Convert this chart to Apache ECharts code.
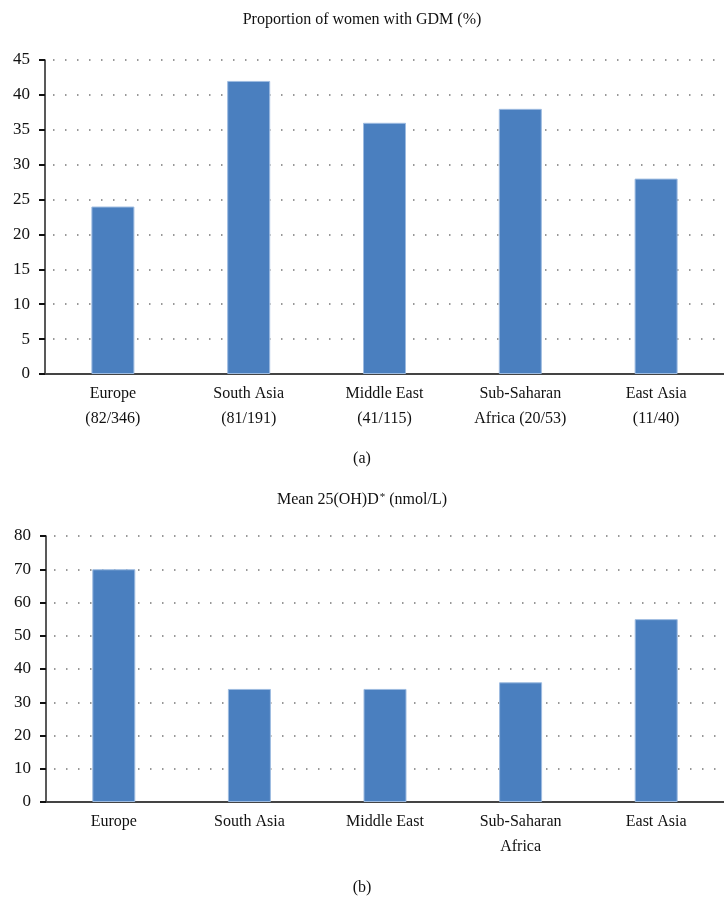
<!DOCTYPE html>
<html>
<head>
<meta charset="utf-8">
<script src="https://cdn.jsdelivr.net/npm/echarts@6/dist/echarts.min.js"></script>
<style>
html,body{margin:0;padding:0;background:#fff;}
#c{width:724px;height:898px;}
</style>
</head>
<body>
<div id="c"></div>
<script>
const categoriesA = ['Europe\n(82/346)', 'South Asia\n(81/191)', 'Middle East\n(41/115)', 'Sub-Saharan\nAfrica (20/53)', 'East Asia\n(11/40)'];
const valuesA = [24, 42, 36, 38, 28];
const categoriesB = ['Europe', 'South Asia', 'Middle East', 'Sub-Saharan\nAfrica', 'East Asia'];
const valuesB = [70, 34, 34, 36, 55];

const FONT = '"Liberation Serif", "DejaVu Serif", serif';
const BAR = '#4a7fbf';

function yAxis(idx, max, interval) {
  return {
    gridIndex: idx, type: 'value', min: 0, max: max, interval: interval,
    axisLine: { show: true, lineStyle: { color: '#222', width: 1.5 } },
    axisTick: { show: true, inside: false, length: 6, lineStyle: { color: '#111', width: 2 } },
    axisLabel: { color: '#111', fontFamily: FONT, fontSize: 17, margin: 15 },
    splitLine: { show: true, lineStyle: { color: '#777', width: 1.5, type: [1.5, 10.5], dashOffset: -8 } }
  };
}
function xAxis(idx, cats) {
  return {
    gridIndex: idx, type: 'category', data: cats,
    axisLine: { show: true, lineStyle: { color: '#444', width: 2 } },
    axisTick: { show: false },
    axisLabel: { color: '#111', fontFamily: FONT, fontSize: 16, lineHeight: 25, margin: 7, interval: 0 }
  };
}
const chart = echarts.init(document.getElementById('c'));
chart.setOption({
  animation: false,
  backgroundColor: '#fff',
  title: [
    { text: 'Proportion of women with GDM (%)', left: 'center', top: 7, textStyle: { fontFamily: FONT, fontSize: 16, fontWeight: 'normal', color: '#111' } },
    { text: '(a)', left: 'center', top: 446, textStyle: { fontFamily: FONT, fontSize: 16, fontWeight: 'normal', color: '#111' } },
    { text: '{a|Mean 25(OH)D}{s|*}{a| (nmol/L)}', left: 'center', top: 487, textStyle: { fontWeight: 'normal', rich: { a: { fontFamily: FONT, fontSize: 16, fontWeight: 'normal', color: '#111' }, s: { fontFamily: FONT, fontSize: 11, fontWeight: 'normal', color: '#111', verticalAlign: 'top', padding: [0,0,3,1] } } } },
    { text: '(b)', left: 'center', top: 875, textStyle: { fontFamily: FONT, fontSize: 16, fontWeight: 'normal', color: '#111' } }
  ],
  grid: [
    { left: 45, top: 60, width: 685, height: 314 },
    { left: 46, top: 536, width: 685, height: 266 }
  ],
  xAxis: [xAxis(0, categoriesA), xAxis(1, categoriesB)],
  yAxis: [yAxis(0, 45, 5), yAxis(1, 80, 10)],
  series: [
    { type: 'bar', xAxisIndex: 0, yAxisIndex: 0, data: valuesA, barWidth: 43, itemStyle: { color: BAR, borderColor: '#9dbbe0', borderWidth: 1 } },
    { type: 'bar', xAxisIndex: 1, yAxisIndex: 1, data: valuesB, barWidth: 43, itemStyle: { color: BAR, borderColor: '#9dbbe0', borderWidth: 1 } }
  ]
});
</script>
</body>
</html>
